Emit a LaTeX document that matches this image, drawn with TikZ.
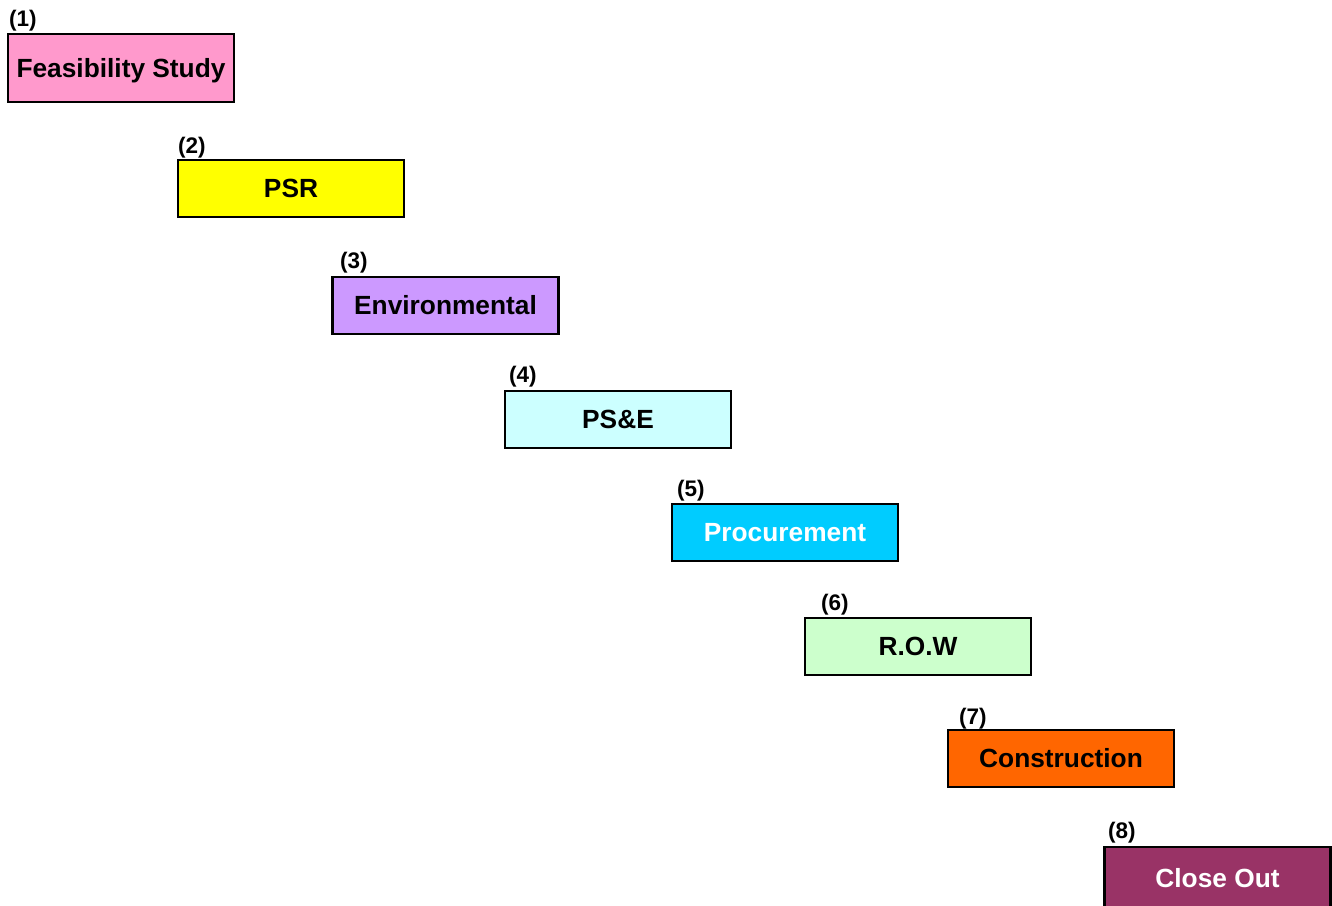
\documentclass[tikz,border=0pt]{standalone}
\usepackage{fontspec}
\setmainfont{Liberation Sans}
\definecolor{cpink}{HTML}{FF99CC}
\definecolor{cyellow}{HTML}{FFFF00}
\definecolor{cpurple}{HTML}{CC99FF}
\definecolor{clcyan}{HTML}{CCFFFF}
\definecolor{ccyan}{HTML}{00CCFF}
\definecolor{cgreen}{HTML}{CCFFCC}
\definecolor{corange}{HTML}{FF6600}
\definecolor{cplum}{HTML}{993366}
\begin{document}
\begin{tikzpicture}[x=1pt,y=-1pt,
  phase/.style={draw=black,line width=2.8pt,rectangle,minimum width=226pt,minimum height=57pt,inner sep=0pt,
    text height=18.8pt,text depth=0pt,
    font=\fontsize{26.3}{30}\selectfont\bfseries},
  num/.style={anchor=west,inner sep=0pt,font=\fontsize{22.5}{26}\selectfont\bfseries}]
\useasboundingbox (0,0) rectangle (1332,905);
\clip (0,0) rectangle (1332,905);
\node[phase,fill=cpink,minimum height=68pt] (p1) at (121,68) {Feasibility Study};
\node[phase,fill=cyellow] (p2) at (291,188.5) {PSR};
\node[phase,fill=cpurple] (p3) at (445.5,305.5) {Environmental};
\node[phase,fill=clcyan] (p4) at (618,419.5) {PS\&E};
\node[phase,fill=ccyan,text=white] (p5) at (785,532.5) {Procurement};
\node[phase,fill=cgreen] (p6) at (918,646.5) {R.O.W};
\node[phase,fill=corange] (p7) at (1061,758.5) {Construction};
\node[phase,fill=cplum,text=white,minimum height=62pt] (p8) at (1217.5,878) {Close Out};
\node[num] (n1) at (9,21) {(1)};
\node[num] (n2) at (178,148) {(2)};
\node[num] (n3) at (340,263) {(3)};
\node[num] (n4) at (509,377) {(4)};
\node[num] (n5) at (677,491) {(5)};
\node[num] (n6) at (821,605) {(6)};
\node[num] (n7) at (959,719) {(7)};
\node[num] (n8) at (1108,833) {(8)};
\end{tikzpicture}
\end{document}
